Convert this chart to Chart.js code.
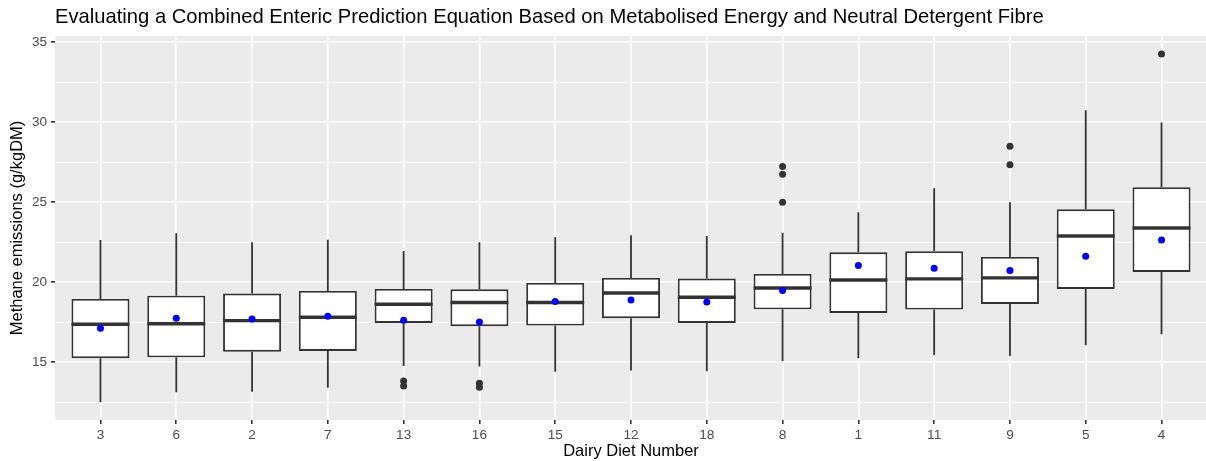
<!DOCTYPE html>
<html>
<head>
<meta charset="utf-8">
<script src="https://cdn.jsdelivr.net/npm/chart.js@4/dist/chart.umd.min.js"></script>
<style>
  html, body { margin: 0; padding: 0; background: #ffffff; overflow: hidden; }
  #wrap { width: 1211px; height: 461px; }
</style>
</head>
<body>
<div id="wrap"><canvas id="c" width="1211" height="461"></canvas></div>
<script>
// ---- data ----
const categories    = ['3','6','2','7','13','16','15','12','18','8','1','11','9','5','4'];
const lowerWhisker  = [12.50,13.12,13.16,13.41,14.77,14.73,14.41,14.48,14.44,15.08,15.25,15.46,15.39,16.06,16.75];
const q1            = [15.25,15.31,15.66,15.71,17.46,17.25,17.29,17.75,17.46,18.31,18.08,18.29,18.64,19.58,20.64];
const medians       = [17.37,17.41,17.60,17.81,18.62,18.73,18.73,19.33,19.06,19.64,20.14,20.21,20.27,22.89,23.39];
const q3            = [18.96,19.16,19.29,19.46,19.58,19.56,19.96,20.27,20.23,20.52,21.87,21.94,21.58,24.56,25.94];
const upperWhisker  = [22.64,23.06,22.50,22.66,21.96,22.50,22.81,22.94,22.89,23.10,24.37,25.87,25.00,30.75,29.98];
const means         = [17.12,17.75,17.71,17.87,17.62,17.52,18.79,18.89,18.77,19.48,21.04,20.87,20.73,21.62,22.64];
const outliers      = [[],[],[],[],[13.83,13.52],[13.69,13.44],[],[],[],[27.23,26.75,25.00],[],[],[28.50,27.35],[],[34.27]];
const yMajorTicks   = [15,20,25,30,35];
const yMinorTicks   = [12.5,17.5,22.5,27.5,32.5];

const titleText  = 'Evaluating a Combined Enteric Prediction Equation Based on Metabolised Energy and Neutral Detergent Fibre';
const xTitleText = 'Dairy Diet Number';
const yTitleText = 'Methane emissions (g/kgDM)';

// ---- styling ----
const FONT = '"Liberation Sans", Arial, Helvetica, sans-serif';
const DARK = '#333333';
const TICK_TEXT = '#4D4D4D';

const boxData = categories.map((c, i) => ({ x: i, y: [q1[i], q3[i]] }));
const meanData = categories.map((c, i) => ({ x: i, y: means[i] }));
const outlierData = [];
outliers.forEach((arr, i) => arr.forEach(v => outlierData.push({ x: i, y: v })));

const panelPlugin = {
  id: 'panel',
  beforeDraw(chart) {
    const { ctx, chartArea: a } = chart;
    ctx.save();
    ctx.fillStyle = '#EBEBEB';
    ctx.fillRect(a.left, a.top, a.right - a.left, a.bottom - a.top);
    ctx.restore();
  },
  afterDraw(chart) {
    const { ctx, chartArea: a } = chart;
    ctx.save();
    ctx.fillStyle = '#000000';
    ctx.font = '20.2px ' + FONT;
    ctx.textBaseline = 'alphabetic';
    ctx.textAlign = 'left';
    ctx.fillText(titleText, a.left, 23);
    ctx.restore();
  }
};

const boxPartsPlugin = {
  id: 'boxParts',
  beforeDatasetDraw(chart, args) {
    if (args.index !== 0) return;
    const { ctx } = chart;
    const xs = chart.scales.x, ys = chart.scales.y;
    ctx.save();
    ctx.strokeStyle = DARK;
    ctx.lineWidth = 1.8;
    ctx.lineCap = 'butt';
    categories.forEach((c, i) => {
      const px = xs.getPixelForValue(i);
      ctx.beginPath();
      ctx.moveTo(px, ys.getPixelForValue(q3[i]));
      ctx.lineTo(px, ys.getPixelForValue(upperWhisker[i]));
      ctx.moveTo(px, ys.getPixelForValue(q1[i]));
      ctx.lineTo(px, ys.getPixelForValue(lowerWhisker[i]));
      ctx.stroke();
    });
    ctx.restore();
  },
  afterDatasetDraw(chart, args) {
    if (args.index !== 0) return;
    const { ctx } = chart;
    const ys = chart.scales.y;
    const meta = chart.getDatasetMeta(0);
    ctx.save();
    ctx.strokeStyle = DARK;
    ctx.lineWidth = 3.4;
    meta.data.forEach((bar, i) => {
      const p = bar.getProps(['x', 'width'], true);
      const py = ys.getPixelForValue(medians[i]);
      ctx.beginPath();
      ctx.moveTo(p.x - p.width / 2, py);
      ctx.lineTo(p.x + p.width / 2, py);
      ctx.stroke();
    });
    ctx.restore();
  }
};

new Chart(document.getElementById('c'), {
  type: 'bar',
  data: {
    datasets: [
      {
        type: 'bar',
        data: boxData,
        backgroundColor: '#FFFFFF',
        borderColor: DARK,
        borderWidth: 1.9,
        borderSkipped: false,
        barPercentage: 0.765,
        categoryPercentage: 1,
        order: 3
      },
      {
        type: 'scatter',
        data: outlierData,
        backgroundColor: DARK,
        borderWidth: 0,
        pointRadius: 3.5,
        order: 2
      },
      {
        type: 'scatter',
        data: meanData,
        backgroundColor: '#0000FF',
        borderWidth: 0,
        pointRadius: 3.5,
        order: 1
      }
    ]
  },
  options: {
    responsive: false,
    devicePixelRatio: 1,
    animation: false,
    layout: { padding: { top: 36, left: 0, right: 0, bottom: 0 } },
    plugins: { legend: { display: false }, tooltip: { enabled: false }, title: { display: false } },
    scales: {
      x: {
        type: 'linear',
        min: -0.6,
        max: categories.length - 1 + 0.6,
        offset: false,
        afterBuildTicks(scale) { scale.ticks = categories.map((c, i) => ({ value: i })); },
        afterFit(scale) { scale.height = 41; },
        border: { display: false },
        grid: { offset: false, color: '#FFFFFF', lineWidth: 1.6, tickColor: DARK, tickLength: 4, tickWidth: 1.6, drawTicks: true },
        ticks: {
          color: TICK_TEXT, font: { family: FONT, size: 13.6 }, padding: 3, maxRotation: 0, autoSkip: false,
          callback: (v) => categories[v]
        },
        title: { display: true, text: xTitleText, color: '#000000', font: { family: FONT, size: 16.5, lineHeight: 1.2 }, padding: { top: 0, bottom: 0 } }
      },
      y: {
        type: 'linear',
        min: 11.39,
        max: 35.39,
        afterBuildTicks(scale) {
          scale.ticks = yMinorTicks.concat(yMajorTicks).sort((a, b) => a - b).map(v => ({ value: v }));
        },
        afterFit(scale) { scale.width = 55; },
        border: { display: false },
        grid: {
          color: '#FFFFFF',
          lineWidth: (ctx) => (yMajorTicks.includes(ctx.tick && ctx.tick.value) ? 1.6 : 0.8),
          tickColor: (ctx) => (yMajorTicks.includes(ctx.tick && ctx.tick.value) ? DARK : 'rgba(0,0,0,0)'),
          tickLength: 4, tickWidth: 1.6, drawTicks: true
        },
        ticks: {
          color: TICK_TEXT, font: { family: FONT, size: 13.6 }, padding: 4, autoSkip: false,
          callback: (v) => (yMajorTicks.includes(v) ? String(v) : '')
        },
        title: { display: true, text: yTitleText, color: '#000000', font: { family: FONT, size: 16.5, lineHeight: 1.2 }, padding: { top: 8, bottom: 0 } }
      }
    }
  },
  plugins: [panelPlugin, boxPartsPlugin]
});
</script>
</body>
</html>
